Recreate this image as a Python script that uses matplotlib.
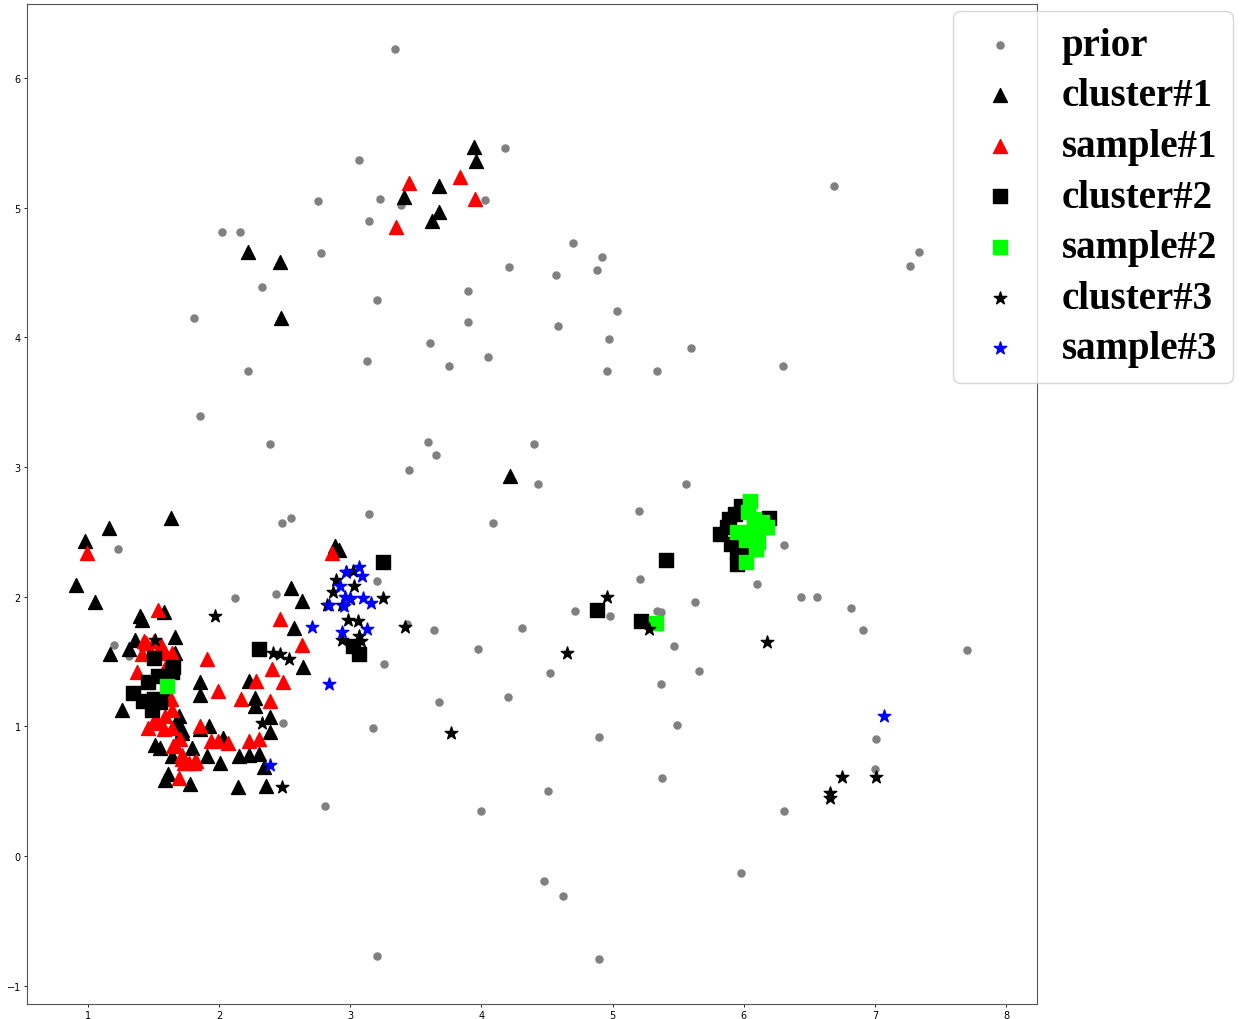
import numpy as np
import matplotlib
matplotlib.use("Agg")
import matplotlib.pyplot as plt

# prior samples (grey dots)
prior_x = [3.34, 3.07, 4.18, 3.23, 3.39, 4.03, 2.75, 2.02, 2.16, 2.78, 3.14, 2.33, 3.20, 4.21,
           3.90, 3.90, 1.81, 3.61, 2.22, 3.13, 3.75, 4.05, 1.85, 2.39, 3.59, 3.65, 3.45, 4.40,
           4.43, 4.70, 4.92, 4.88, 4.57, 4.58, 5.03, 4.97, 4.96, 5.34, 5.60, 6.30, 6.69, 7.34,
           7.27, 5.56, 5.20, 4.09, 6.31, 5.21, 6.10, 6.44, 6.56, 5.63, 6.82, 4.71, 4.98, 5.34,
           5.37, 6.91, 3.64, 4.31, 3.97, 5.47, 7.70, 4.52, 5.66, 5.37, 3.68, 4.20, 5.49, 4.90,
           7.01, 5.38, 7.00, 4.51, 4.00, 6.31, 4.48, 4.62, 5.98, 3.20, 4.90, 1.23, 2.48, 2.55,
           3.14, 2.12, 2.43, 3.20, 1.20, 1.31, 3.26, 2.49, 3.17, 2.81, 3.43]
prior_y = [6.22, 5.37, 5.46, 5.07, 5.02, 5.06, 5.05, 4.81, 4.81, 4.65, 4.90, 4.39, 4.29, 4.54,
           4.36, 4.12, 4.15, 3.96, 3.74, 3.82, 3.78, 3.85, 3.39, 3.18, 3.19, 3.09, 2.98, 3.18,
           2.87, 4.73, 4.62, 4.52, 4.48, 4.09, 4.20, 3.99, 3.74, 3.74, 3.92, 3.78, 5.17, 4.66,
           4.55, 2.87, 2.66, 2.57, 2.40, 2.14, 2.10, 2.00, 2.00, 1.96, 1.91, 1.89, 1.85, 1.89,
           1.88, 1.74, 1.74, 1.76, 1.60, 1.62, 1.59, 1.41, 1.43, 1.33, 1.19, 1.23, 1.01, 0.92,
           0.90, 0.60, 0.67, 0.50, 0.35, 0.35, -0.19, -0.31, -0.13, -0.77, -0.79, 2.37, 2.57, 2.61,
           2.64, 1.99, 2.02, 2.12, 1.63, 1.54, 1.48, 1.03, 0.99, 0.39, 1.79]

# cluster #1 (black triangles)
c1_x = [3.94, 3.96, 3.68, 3.41, 3.68, 3.62, 2.22, 2.46, 2.47, 4.22, 0.98, 1.16, 1.63, 0.91,
        1.05, 2.88, 2.91, 2.55, 2.63, 2.57, 2.64, 1.40, 1.41, 1.58, 1.36, 1.66, 1.17, 1.31,
        1.66, 1.26, 1.85, 1.85, 2.23, 2.27, 2.27, 1.69, 2.39, 2.39, 1.92, 1.72, 2.03, 1.79,
        2.15, 2.23, 2.30, 2.34, 2.01, 1.59, 1.78, 2.14, 2.36, 1.51, 1.55, 1.64, 1.91, 1.61,
        1.47, 1.59, 1.68, 1.72, 1.85]
c1_y = [5.47, 5.36, 5.17, 5.08, 4.97, 4.90, 4.66, 4.58, 4.15, 2.93, 2.43, 2.53, 2.61, 2.09,
        1.96, 2.39, 2.36, 2.07, 1.97, 1.76, 1.46, 1.85, 1.82, 1.88, 1.67, 1.69, 1.56, 1.60,
        1.57, 1.13, 1.34, 1.24, 1.35, 1.22, 1.16, 1.08, 1.07, 0.96, 1.00, 0.97, 0.91, 0.83,
        0.77, 0.78, 0.79, 0.69, 0.72, 0.59, 0.56, 0.53, 0.54, 0.86, 0.83, 0.77, 0.77, 0.63,
        1.21, 1.29, 1.02, 0.95, 0.98]

# sample #1 (red triangles)
s1_x = [3.45, 3.84, 3.95, 3.35, 0.99, 2.86, 1.53, 2.46, 2.63, 1.91, 2.40, 2.49, 2.28, 1.99,
        2.17, 2.39, 1.44, 1.64, 1.37, 2.07, 2.23, 2.30, 1.85, 1.94, 1.69, 1.46, 1.53, 1.59,
        1.58, 1.64, 1.70, 1.66, 1.72, 1.77, 1.81, 1.73, 1.43, 1.50, 1.56, 1.41, 1.59, 1.61,
        1.63, 1.64, 1.51, 1.65, 1.72, 1.82, 1.99]
s1_y = [5.19, 5.24, 5.07, 4.85, 2.34, 2.34, 1.90, 1.83, 1.63, 1.52, 1.44, 1.34, 1.35, 1.27,
        1.21, 1.20, 1.64, 1.57, 1.42, 0.87, 0.89, 0.90, 1.00, 0.89, 0.60, 0.99, 1.03, 1.08,
        0.98, 0.99, 0.90, 0.86, 0.78, 0.72, 0.72, 0.72, 1.66, 1.66, 1.63, 1.56, 1.57, 1.50,
        1.21, 1.13, 1.06, 0.85, 0.75, 0.73, 0.89]

# cluster #2 (black squares)
c2_x = [3.25, 2.30, 3.02, 3.07, 1.50, 1.65, 1.46, 1.53, 1.34, 1.42, 1.50, 1.55, 1.49, 1.64,
        5.41, 4.88, 5.22, 5.93, 5.87, 5.82, 5.90, 5.95, 5.95, 6.19, 5.98, 5.89, 6.05]
c2_y = [2.27, 1.60, 1.62, 1.56, 1.53, 1.46, 1.34, 1.39, 1.26, 1.20, 1.21, 1.19, 1.13, 1.42,
        2.28, 1.90, 1.81, 2.64, 2.54, 2.48, 2.41, 2.34, 2.25, 2.61, 2.70, 2.60, 2.37]

# sample #2 (green squares)
s2_x = [1.60, 5.33, 6.05, 6.03, 6.14, 6.18, 5.95, 6.05, 6.11, 6.02, 6.09, 6.02, 6.14, 6.08]
s2_y = [1.31, 1.80, 2.74, 2.65, 2.58, 2.54, 2.50, 2.50, 2.42, 2.44, 2.37, 2.27, 2.54, 2.60]

# cluster #3 (black stars)
c3_x = [3.42, 4.96, 5.28, 4.65, 6.18, 3.77, 6.75, 7.01, 6.66, 6.66, 1.97, 3.25, 2.48, 2.33,
        2.41, 2.46, 2.53, 1.51, 2.89, 2.87, 2.97, 3.02, 3.03, 2.82, 2.94, 3.00, 2.98, 3.06,
        3.07, 2.94, 3.08]
c3_y = [1.77, 2.00, 1.75, 1.57, 1.65, 0.95, 0.61, 0.61, 0.49, 0.45, 1.85, 1.99, 0.53, 1.03,
        1.57, 1.56, 1.52, 1.67, 2.13, 2.04, 2.19, 2.20, 2.08, 1.94, 1.94, 1.98, 1.82, 1.81,
        1.70, 1.67, 1.66]

# sample #3 (blue stars)
s3_x = [3.07, 3.09, 2.97, 2.92, 2.96, 3.00, 2.84, 2.95, 3.10, 3.16, 2.71, 2.94, 3.13, 2.84,
        2.39, 7.07]
s3_y = [2.23, 2.16, 2.19, 2.08, 2.00, 1.99, 1.94, 1.93, 1.99, 1.95, 1.77, 1.73, 1.75, 1.33,
        0.70, 1.08]

fig = plt.figure(figsize=(12.41, 10.2), dpi=100)
ax = fig.add_axes([0.0218, 0.0147, 0.8138, 0.9804])

ax.scatter(prior_x, prior_y, s=26, c='grey', marker='o', label='prior')
ax.scatter(c1_x, c1_y, s=100, c='black', marker='^', label='cluster#1')
ax.scatter(s1_x, s1_y, s=100, c='red', marker='^', label='sample#1')
ax.scatter(c2_x, c2_y, s=95, c='black', marker='s', label='cluster#2')
ax.scatter(s2_x, s2_y, s=95, c='#00ff00', marker='s', label='sample#2')
ax.scatter(c3_x, c3_y, s=90, c='black', marker='*', label='cluster#3')
ax.scatter(s3_x, s3_y, s=90, c='blue', marker='*', label='sample#3')

ax.set_xlim(0.535, 8.236)
ax.set_ylim(-1.14, 6.57)
ax.set_xticks(range(1, 9))
ax.set_yticks(range(-1, 7))
ax.tick_params(labelsize=7, length=2.5, width=0.6, pad=2)
for sp in ax.spines.values():
    sp.set_linewidth(0.8)
    sp.set_color('#555555')

fig.legend(loc='upper left', bbox_to_anchor=(0.768, 0.988), borderaxespad=0,
           prop={'family': 'Liberation Serif', 'weight': 'bold', 'size': 28},
           labelspacing=0.35, handlelength=1.6, handletextpad=0.8, borderpad=0.4)

fig.savefig('out.png', dpi=100)
